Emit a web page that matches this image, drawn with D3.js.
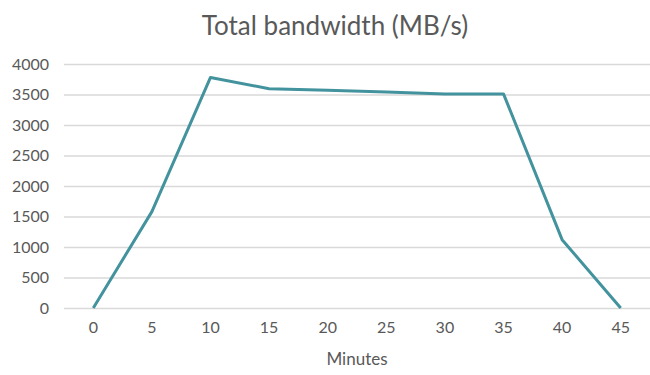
<!DOCTYPE html>
<html>
<head>
<meta charset="utf-8">
<script src="https://cdn.jsdelivr.net/npm/d3@7"></script>
<style>
  html, body { margin: 0; padding: 0; background: #fff; }
  svg { display: block; font-family: Lato, "Open Sans", sans-serif; }
</style>
</head>
<body>
<svg id="chart" width="650" height="375"></svg>
<script>
// Minutes since start and measured total bandwidth
const minutes = [0, 5, 10, 15, 20, 25, 30, 35, 40, 45];
const bandwidth = [0, 1580, 3780, 3595, 3570, 3540, 3510, 3510, 1120, 0];
const yTicks = [0, 500, 1000, 1500, 2000, 2500, 3000, 3500, 4000];

const svg = d3.select("#chart");
const margin = { top: 64, right: 0, bottom: 67, left: 64 };
const width = 650, height = 375;
const textColor = "#595959";
const fontStack = "Lato, 'Open Sans', sans-serif";

const x = d3.scaleBand()
  .domain(minutes)
  .range([margin.left, width - margin.right])
  .padding(0);

const y = d3.scaleLinear()
  .domain([0, 4000])
  .range([height - margin.bottom, margin.top]);

// Title
svg.append("text")
  .attr("x", 335)
  .attr("y", 35)
  .attr("text-anchor", "middle")
  .attr("fill", textColor)
  .attr("font-size", 26)
  .text("Total bandwidth (MB/s)");

// Horizontal gridlines + y tick labels
const yAxis = d3.axisLeft(y)
  .tickValues(yTicks)
  .tickFormat(d3.format("d"))
  .tickSize(-(width - margin.left - margin.right))
  .tickPadding(15);

const gy = svg.append("g")
  .attr("transform", `translate(${margin.left},0)`)
  .call(yAxis);
gy.select(".domain").remove();
gy.selectAll(".tick line").attr("stroke", "#d9d9d9").attr("stroke-width", 1.3);
gy.selectAll(".tick text")
  .attr("fill", textColor)
  .attr("font-size", 16)
  .attr("font-family", fontStack);

// Category axis
const xAxis = d3.axisBottom(x).tickSize(0).tickPadding(14);
const gx = svg.append("g")
  .attr("transform", `translate(0,${height - margin.bottom})`)
  .call(xAxis);
gx.select(".domain").remove();
gx.selectAll(".tick text")
  .attr("fill", textColor)
  .attr("font-size", 16)
  .attr("font-family", fontStack);

// Axis title
svg.append("text")
  .attr("x", 357)
  .attr("y", 365)
  .attr("text-anchor", "middle")
  .attr("fill", textColor)
  .attr("font-size", 17)
  .text("Minutes");

// Bandwidth line
const line = d3.line()
  .x((d, i) => x(minutes[i]) + x.bandwidth() / 2)
  .y(d => y(d));

svg.append("path")
  .datum(bandwidth)
  .attr("fill", "none")
  .attr("stroke", "#43939e")
  .attr("stroke-width", 3)
  .attr("stroke-linejoin", "round")
  .attr("d", line);
</script>
</body>
</html>
